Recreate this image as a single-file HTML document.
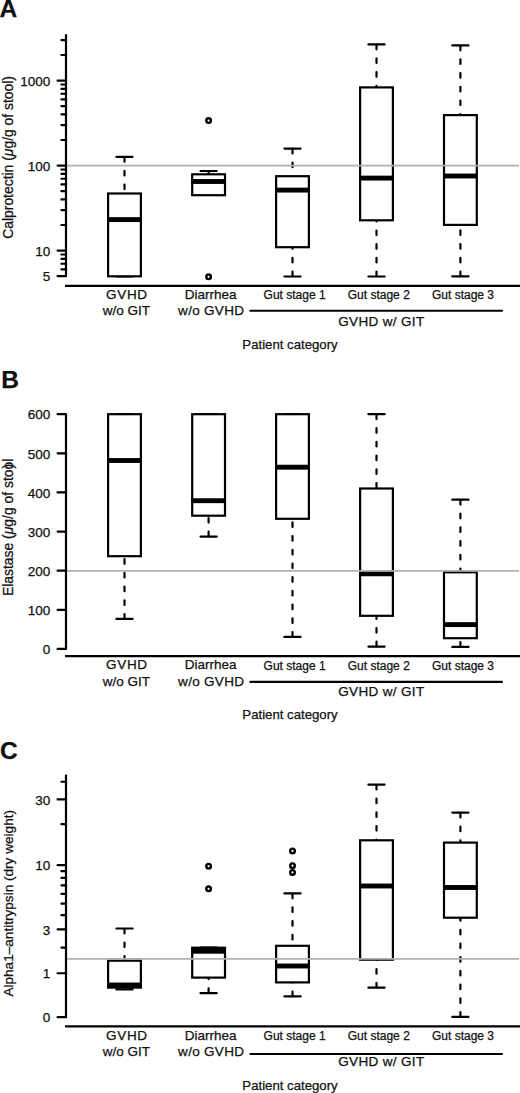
<!DOCTYPE html>
<html><head><meta charset="utf-8"><title>Boxplots</title>
<style>
html,body{margin:0;padding:0;background:#fff;}
body{width:520px;height:1093px;overflow:hidden;}
svg{display:block;font-family:"Liberation Sans", sans-serif;fill:#111;}
svg text{fill:#111;stroke:#111;stroke-width:0.25px;}
</style></head>
<body>
<svg width="520" height="1093" viewBox="0 0 520 1093" shape-rendering="geometricPrecision">
<rect width="520" height="1093" fill="#fff"/>
<text x="-0.40" y="17.40" font-size="24.5" text-anchor="start" font-weight="bold" >A</text>
<line x1="66.00" y1="34.20" x2="66.00" y2="276.19" stroke="#000" stroke-width="2.2" />
<line x1="57.60" y1="80.60" x2="66.00" y2="80.60" stroke="#000" stroke-width="2.2" stroke-linecap="round"/>
<line x1="57.60" y1="165.60" x2="66.00" y2="165.60" stroke="#000" stroke-width="2.2" stroke-linecap="round"/>
<line x1="57.60" y1="250.60" x2="66.00" y2="250.60" stroke="#000" stroke-width="2.2" stroke-linecap="round"/>
<line x1="57.60" y1="276.19" x2="66.00" y2="276.19" stroke="#000" stroke-width="2.2" stroke-linecap="round"/>
<line x1="61.40" y1="40.04" x2="66.00" y2="40.04" stroke="#000" stroke-width="2.2" stroke-linecap="round"/>
<line x1="61.40" y1="55.01" x2="66.00" y2="55.01" stroke="#000" stroke-width="2.2" stroke-linecap="round"/>
<line x1="61.40" y1="84.49" x2="66.00" y2="84.49" stroke="#000" stroke-width="2.2" stroke-linecap="round"/>
<line x1="61.40" y1="88.84" x2="66.00" y2="88.84" stroke="#000" stroke-width="2.2" stroke-linecap="round"/>
<line x1="61.40" y1="93.77" x2="66.00" y2="93.77" stroke="#000" stroke-width="2.2" stroke-linecap="round"/>
<line x1="61.40" y1="99.46" x2="66.00" y2="99.46" stroke="#000" stroke-width="2.2" stroke-linecap="round"/>
<line x1="61.40" y1="106.19" x2="66.00" y2="106.19" stroke="#000" stroke-width="2.2" stroke-linecap="round"/>
<line x1="61.40" y1="114.42" x2="66.00" y2="114.42" stroke="#000" stroke-width="2.2" stroke-linecap="round"/>
<line x1="61.40" y1="125.04" x2="66.00" y2="125.04" stroke="#000" stroke-width="2.2" stroke-linecap="round"/>
<line x1="61.40" y1="140.01" x2="66.00" y2="140.01" stroke="#000" stroke-width="2.2" stroke-linecap="round"/>
<line x1="61.40" y1="169.49" x2="66.00" y2="169.49" stroke="#000" stroke-width="2.2" stroke-linecap="round"/>
<line x1="61.40" y1="173.84" x2="66.00" y2="173.84" stroke="#000" stroke-width="2.2" stroke-linecap="round"/>
<line x1="61.40" y1="178.77" x2="66.00" y2="178.77" stroke="#000" stroke-width="2.2" stroke-linecap="round"/>
<line x1="61.40" y1="184.46" x2="66.00" y2="184.46" stroke="#000" stroke-width="2.2" stroke-linecap="round"/>
<line x1="61.40" y1="191.19" x2="66.00" y2="191.19" stroke="#000" stroke-width="2.2" stroke-linecap="round"/>
<line x1="61.40" y1="199.42" x2="66.00" y2="199.42" stroke="#000" stroke-width="2.2" stroke-linecap="round"/>
<line x1="61.40" y1="210.04" x2="66.00" y2="210.04" stroke="#000" stroke-width="2.2" stroke-linecap="round"/>
<line x1="61.40" y1="225.01" x2="66.00" y2="225.01" stroke="#000" stroke-width="2.2" stroke-linecap="round"/>
<line x1="61.40" y1="254.49" x2="66.00" y2="254.49" stroke="#000" stroke-width="2.2" stroke-linecap="round"/>
<line x1="61.40" y1="258.84" x2="66.00" y2="258.84" stroke="#000" stroke-width="2.2" stroke-linecap="round"/>
<line x1="61.40" y1="263.77" x2="66.00" y2="263.77" stroke="#000" stroke-width="2.2" stroke-linecap="round"/>
<line x1="61.40" y1="269.46" x2="66.00" y2="269.46" stroke="#000" stroke-width="2.2" stroke-linecap="round"/>
<text x="50.30" y="85.80" font-size="13.5" text-anchor="end" font-weight="normal" >1000</text>
<text x="50.30" y="170.80" font-size="13.5" text-anchor="end" font-weight="normal" >100</text>
<text x="50.30" y="255.80" font-size="13.5" text-anchor="end" font-weight="normal" >10</text>
<text x="50.30" y="281.39" font-size="13.5" text-anchor="end" font-weight="normal" >5</text>
<line x1="65.00" y1="285.80" x2="520.00" y2="285.80" stroke="#000" stroke-width="2.2" />
<text x="126.90" y="298.90" font-size="13.5" text-anchor="middle" font-weight="normal" letter-spacing="0.7">GVHD</text>
<text x="126.40" y="315.30" font-size="13.5" text-anchor="middle" font-weight="normal" >w/o GIT</text>
<text x="210.60" y="298.90" font-size="13.5" text-anchor="middle" font-weight="normal" >Diarrhea</text>
<text x="211.20" y="315.30" font-size="13.5" text-anchor="middle" font-weight="normal" letter-spacing="0.3">w/o GVHD</text>
<text x="294.60" y="299.20" font-size="12" text-anchor="middle" font-weight="normal" >Gut stage 1</text>
<text x="378.80" y="299.20" font-size="12" text-anchor="middle" font-weight="normal" >Gut stage 2</text>
<text x="463.00" y="299.20" font-size="12" text-anchor="middle" font-weight="normal" >Gut stage 3</text>
<line x1="250.35" y1="310.80" x2="501.95" y2="310.80" stroke="#000" stroke-width="2.1" stroke-linecap="round"/>
<text x="381.40" y="325.60" font-size="13.5" text-anchor="middle" font-weight="normal" letter-spacing="0.35">GVHD w/ GIT</text>
<text x="290.00" y="348.90" font-size="13.2" text-anchor="middle" font-weight="normal" >Patient category</text>
<text transform="translate(12.7,157.4) rotate(-90)" font-size="13.9" text-anchor="middle">Calprotectin (<tspan font-style="italic">μ</tspan>g/g of stool)</text>
<line x1="124.50" y1="156.80" x2="124.50" y2="193.50" stroke="#000" stroke-width="2.2" stroke-dasharray="4.6 9.1" stroke-dashoffset="-0.3" stroke-linecap="round"/>
<line x1="116.40" y1="156.80" x2="132.60" y2="156.80" stroke="#000" stroke-width="2.2" stroke-linecap="round"/>
<line x1="116.40" y1="276.30" x2="132.60" y2="276.30" stroke="#000" stroke-width="2.2" stroke-linecap="round"/>
<rect x="108.10" y="193.50" width="32.80" height="82.80" fill="#fff" stroke="#000" stroke-width="2.2"/>
<rect x="107.10" y="217.15" width="34.80" height="4.9" fill="#000"/>
<line x1="208.60" y1="171.00" x2="208.60" y2="174.30" stroke="#000" stroke-width="2.2" stroke-dasharray="4.6 9.1" stroke-dashoffset="-0.3" stroke-linecap="round"/>
<line x1="200.50" y1="171.00" x2="216.70" y2="171.00" stroke="#000" stroke-width="2.2" stroke-linecap="round"/>
<rect x="192.20" y="174.30" width="32.80" height="20.90" fill="#fff" stroke="#000" stroke-width="2.2"/>
<rect x="191.20" y="179.05" width="34.80" height="4.9" fill="#000"/>
<circle cx="208.60" cy="120.60" r="2.3" fill="none" stroke="#000" stroke-width="2.4"/>
<circle cx="208.60" cy="276.80" r="2.3" fill="none" stroke="#000" stroke-width="2.4"/>
<line x1="292.50" y1="148.60" x2="292.50" y2="176.20" stroke="#000" stroke-width="2.2" stroke-dasharray="4.6 9.1" stroke-dashoffset="-0.3" stroke-linecap="round"/>
<line x1="292.50" y1="276.50" x2="292.50" y2="247.20" stroke="#000" stroke-width="2.2" stroke-dasharray="4.6 9.1" stroke-dashoffset="-0.3" stroke-linecap="round"/>
<line x1="284.40" y1="148.60" x2="300.60" y2="148.60" stroke="#000" stroke-width="2.2" stroke-linecap="round"/>
<line x1="284.40" y1="276.50" x2="300.60" y2="276.50" stroke="#000" stroke-width="2.2" stroke-linecap="round"/>
<rect x="276.10" y="176.20" width="32.80" height="71.00" fill="#fff" stroke="#000" stroke-width="2.2"/>
<rect x="275.10" y="187.65" width="34.80" height="4.9" fill="#000"/>
<line x1="376.50" y1="44.40" x2="376.50" y2="87.40" stroke="#000" stroke-width="2.2" stroke-dasharray="4.6 9.1" stroke-dashoffset="-0.3" stroke-linecap="round"/>
<line x1="376.50" y1="276.50" x2="376.50" y2="220.30" stroke="#000" stroke-width="2.2" stroke-dasharray="4.6 9.1" stroke-dashoffset="-0.3" stroke-linecap="round"/>
<line x1="368.40" y1="44.40" x2="384.60" y2="44.40" stroke="#000" stroke-width="2.2" stroke-linecap="round"/>
<line x1="368.40" y1="276.50" x2="384.60" y2="276.50" stroke="#000" stroke-width="2.2" stroke-linecap="round"/>
<rect x="360.10" y="87.40" width="32.80" height="132.90" fill="#fff" stroke="#000" stroke-width="2.2"/>
<rect x="359.10" y="175.65" width="34.80" height="4.9" fill="#000"/>
<line x1="460.40" y1="45.40" x2="460.40" y2="115.10" stroke="#000" stroke-width="2.2" stroke-dasharray="4.6 9.1" stroke-dashoffset="-0.3" stroke-linecap="round"/>
<line x1="460.40" y1="276.40" x2="460.40" y2="224.90" stroke="#000" stroke-width="2.2" stroke-dasharray="4.6 9.1" stroke-dashoffset="-0.3" stroke-linecap="round"/>
<line x1="452.30" y1="45.40" x2="468.50" y2="45.40" stroke="#000" stroke-width="2.2" stroke-linecap="round"/>
<line x1="452.30" y1="276.40" x2="468.50" y2="276.40" stroke="#000" stroke-width="2.2" stroke-linecap="round"/>
<rect x="444.00" y="115.10" width="32.80" height="109.80" fill="#fff" stroke="#000" stroke-width="2.2"/>
<rect x="443.00" y="173.55" width="34.80" height="4.9" fill="#000"/>
<line x1="67.00" y1="165.70" x2="519.00" y2="165.70" stroke="#b0b0b0" stroke-width="1.7" />
<text x="1.20" y="388.00" font-size="24.5" text-anchor="start" font-weight="bold" >B</text>
<line x1="66.00" y1="414.20" x2="66.00" y2="648.90" stroke="#000" stroke-width="2.2" />
<line x1="57.60" y1="648.90" x2="66.00" y2="648.90" stroke="#000" stroke-width="2.2" stroke-linecap="round"/>
<line x1="57.60" y1="609.78" x2="66.00" y2="609.78" stroke="#000" stroke-width="2.2" stroke-linecap="round"/>
<line x1="57.60" y1="570.67" x2="66.00" y2="570.67" stroke="#000" stroke-width="2.2" stroke-linecap="round"/>
<line x1="57.60" y1="531.55" x2="66.00" y2="531.55" stroke="#000" stroke-width="2.2" stroke-linecap="round"/>
<line x1="57.60" y1="492.43" x2="66.00" y2="492.43" stroke="#000" stroke-width="2.2" stroke-linecap="round"/>
<line x1="57.60" y1="453.31" x2="66.00" y2="453.31" stroke="#000" stroke-width="2.2" stroke-linecap="round"/>
<line x1="57.60" y1="414.20" x2="66.00" y2="414.20" stroke="#000" stroke-width="2.2" stroke-linecap="round"/>
<text x="50.30" y="654.10" font-size="13.5" text-anchor="end" font-weight="normal" >0</text>
<text x="50.30" y="614.98" font-size="13.5" text-anchor="end" font-weight="normal" >100</text>
<text x="50.30" y="575.87" font-size="13.5" text-anchor="end" font-weight="normal" >200</text>
<text x="50.30" y="536.75" font-size="13.5" text-anchor="end" font-weight="normal" >300</text>
<text x="50.30" y="497.63" font-size="13.5" text-anchor="end" font-weight="normal" >400</text>
<text x="50.30" y="458.51" font-size="13.5" text-anchor="end" font-weight="normal" >500</text>
<text x="50.30" y="419.40" font-size="13.5" text-anchor="end" font-weight="normal" >600</text>
<line x1="65.00" y1="656.20" x2="520.00" y2="656.20" stroke="#000" stroke-width="2.2" />
<text x="126.90" y="669.30" font-size="13.5" text-anchor="middle" font-weight="normal" letter-spacing="0.7">GVHD</text>
<text x="126.40" y="685.70" font-size="13.5" text-anchor="middle" font-weight="normal" >w/o GIT</text>
<text x="210.60" y="669.30" font-size="13.5" text-anchor="middle" font-weight="normal" >Diarrhea</text>
<text x="211.20" y="685.70" font-size="13.5" text-anchor="middle" font-weight="normal" letter-spacing="0.3">w/o GVHD</text>
<text x="294.60" y="669.60" font-size="12" text-anchor="middle" font-weight="normal" >Gut stage 1</text>
<text x="378.80" y="669.60" font-size="12" text-anchor="middle" font-weight="normal" >Gut stage 2</text>
<text x="463.00" y="669.60" font-size="12" text-anchor="middle" font-weight="normal" >Gut stage 3</text>
<line x1="250.35" y1="681.90" x2="501.95" y2="681.90" stroke="#000" stroke-width="2.1" stroke-linecap="round"/>
<text x="381.40" y="696.00" font-size="13.5" text-anchor="middle" font-weight="normal" letter-spacing="0.35">GVHD w/ GIT</text>
<text x="290.00" y="719.30" font-size="13.2" text-anchor="middle" font-weight="normal" >Patient category</text>
<text transform="translate(12.7,527.3) rotate(-90)" font-size="13.9" text-anchor="middle">Elastase (<tspan font-style="italic">μ</tspan>g/g of stoo<tspan dx="-6.8">)</tspan><tspan dx="2.3">l</tspan></text>
<line x1="124.50" y1="618.90" x2="124.50" y2="556.20" stroke="#000" stroke-width="2.2" stroke-dasharray="4.6 9.1" stroke-dashoffset="-0.3" stroke-linecap="round"/>
<line x1="116.40" y1="414.20" x2="132.60" y2="414.20" stroke="#000" stroke-width="2.2" stroke-linecap="round"/>
<line x1="116.40" y1="618.90" x2="132.60" y2="618.90" stroke="#000" stroke-width="2.2" stroke-linecap="round"/>
<rect x="108.10" y="414.20" width="32.80" height="142.00" fill="#fff" stroke="#000" stroke-width="2.2"/>
<rect x="107.10" y="458.05" width="34.80" height="4.9" fill="#000"/>
<line x1="208.60" y1="536.60" x2="208.60" y2="515.70" stroke="#000" stroke-width="2.2" stroke-dasharray="4.6 9.1" stroke-dashoffset="-0.3" stroke-linecap="round"/>
<line x1="200.50" y1="414.20" x2="216.70" y2="414.20" stroke="#000" stroke-width="2.2" stroke-linecap="round"/>
<line x1="200.50" y1="536.60" x2="216.70" y2="536.60" stroke="#000" stroke-width="2.2" stroke-linecap="round"/>
<rect x="192.20" y="414.20" width="32.80" height="101.50" fill="#fff" stroke="#000" stroke-width="2.2"/>
<rect x="191.20" y="498.25" width="34.80" height="4.9" fill="#000"/>
<line x1="292.50" y1="636.90" x2="292.50" y2="518.80" stroke="#000" stroke-width="2.2" stroke-dasharray="4.6 9.1" stroke-dashoffset="-0.3" stroke-linecap="round"/>
<line x1="284.40" y1="414.20" x2="300.60" y2="414.20" stroke="#000" stroke-width="2.2" stroke-linecap="round"/>
<line x1="284.40" y1="636.90" x2="300.60" y2="636.90" stroke="#000" stroke-width="2.2" stroke-linecap="round"/>
<rect x="276.10" y="414.20" width="32.80" height="104.60" fill="#fff" stroke="#000" stroke-width="2.2"/>
<rect x="275.10" y="464.75" width="34.80" height="4.9" fill="#000"/>
<line x1="376.50" y1="414.20" x2="376.50" y2="488.50" stroke="#000" stroke-width="2.2" stroke-dasharray="4.6 9.1" stroke-dashoffset="-0.3" stroke-linecap="round"/>
<line x1="376.50" y1="646.60" x2="376.50" y2="615.80" stroke="#000" stroke-width="2.2" stroke-dasharray="4.6 9.1" stroke-dashoffset="-0.3" stroke-linecap="round"/>
<line x1="368.40" y1="414.20" x2="384.60" y2="414.20" stroke="#000" stroke-width="2.2" stroke-linecap="round"/>
<line x1="368.40" y1="646.60" x2="384.60" y2="646.60" stroke="#000" stroke-width="2.2" stroke-linecap="round"/>
<rect x="360.10" y="488.50" width="32.80" height="127.30" fill="#fff" stroke="#000" stroke-width="2.2"/>
<rect x="359.10" y="571.35" width="34.80" height="4.9" fill="#000"/>
<line x1="460.40" y1="499.70" x2="460.40" y2="572.30" stroke="#000" stroke-width="2.2" stroke-dasharray="4.6 9.1" stroke-dashoffset="-0.3" stroke-linecap="round"/>
<line x1="460.40" y1="646.90" x2="460.40" y2="638.20" stroke="#000" stroke-width="2.2" stroke-dasharray="4.6 9.1" stroke-dashoffset="-0.3" stroke-linecap="round"/>
<line x1="452.30" y1="499.70" x2="468.50" y2="499.70" stroke="#000" stroke-width="2.2" stroke-linecap="round"/>
<line x1="452.30" y1="646.90" x2="468.50" y2="646.90" stroke="#000" stroke-width="2.2" stroke-linecap="round"/>
<rect x="444.00" y="572.30" width="32.80" height="65.90" fill="#fff" stroke="#000" stroke-width="2.2"/>
<rect x="443.00" y="622.15" width="34.80" height="4.9" fill="#000"/>
<line x1="67.00" y1="570.80" x2="519.00" y2="570.80" stroke="#b0b0b0" stroke-width="1.7" />
<text x="0.00" y="758.60" font-size="24.5" text-anchor="start" font-weight="bold" >C</text>
<line x1="66.00" y1="774.60" x2="66.00" y2="1017.20" stroke="#000" stroke-width="2.2" />
<line x1="57.60" y1="1017.20" x2="66.00" y2="1017.20" stroke="#000" stroke-width="2.2" stroke-linecap="round"/>
<line x1="57.60" y1="973.25" x2="66.00" y2="973.25" stroke="#000" stroke-width="2.2" stroke-linecap="round"/>
<line x1="57.60" y1="929.30" x2="66.00" y2="929.30" stroke="#000" stroke-width="2.2" stroke-linecap="round"/>
<line x1="57.60" y1="865.16" x2="66.00" y2="865.16" stroke="#000" stroke-width="2.2" stroke-linecap="round"/>
<line x1="57.60" y1="799.46" x2="66.00" y2="799.46" stroke="#000" stroke-width="2.2" stroke-linecap="round"/>
<line x1="61.40" y1="947.54" x2="66.00" y2="947.54" stroke="#000" stroke-width="2.2" stroke-linecap="round"/>
<line x1="61.40" y1="915.15" x2="66.00" y2="915.15" stroke="#000" stroke-width="2.2" stroke-linecap="round"/>
<line x1="61.40" y1="903.59" x2="66.00" y2="903.59" stroke="#000" stroke-width="2.2" stroke-linecap="round"/>
<line x1="61.40" y1="893.82" x2="66.00" y2="893.82" stroke="#000" stroke-width="2.2" stroke-linecap="round"/>
<line x1="61.40" y1="885.35" x2="66.00" y2="885.35" stroke="#000" stroke-width="2.2" stroke-linecap="round"/>
<line x1="61.40" y1="877.88" x2="66.00" y2="877.88" stroke="#000" stroke-width="2.2" stroke-linecap="round"/>
<line x1="61.40" y1="871.20" x2="66.00" y2="871.20" stroke="#000" stroke-width="2.2" stroke-linecap="round"/>
<line x1="61.40" y1="824.16" x2="66.00" y2="824.16" stroke="#000" stroke-width="2.2" stroke-linecap="round"/>
<line x1="61.40" y1="781.73" x2="66.00" y2="781.73" stroke="#000" stroke-width="2.2" stroke-linecap="round"/>
<text x="50.30" y="1022.40" font-size="13.5" text-anchor="end" font-weight="normal" >0</text>
<text x="50.30" y="978.45" font-size="13.5" text-anchor="end" font-weight="normal" >1</text>
<text x="50.30" y="934.50" font-size="13.5" text-anchor="end" font-weight="normal" >3</text>
<text x="50.30" y="870.36" font-size="13.5" text-anchor="end" font-weight="normal" >10</text>
<text x="50.30" y="804.66" font-size="13.5" text-anchor="end" font-weight="normal" >30</text>
<line x1="65.00" y1="1026.40" x2="520.00" y2="1026.40" stroke="#000" stroke-width="2.2" />
<text x="126.90" y="1039.50" font-size="13.5" text-anchor="middle" font-weight="normal" letter-spacing="0.7">GVHD</text>
<text x="126.40" y="1055.90" font-size="13.5" text-anchor="middle" font-weight="normal" >w/o GIT</text>
<text x="210.60" y="1039.50" font-size="13.5" text-anchor="middle" font-weight="normal" >Diarrhea</text>
<text x="211.20" y="1055.90" font-size="13.5" text-anchor="middle" font-weight="normal" letter-spacing="0.3">w/o GVHD</text>
<text x="294.60" y="1039.80" font-size="12" text-anchor="middle" font-weight="normal" >Gut stage 1</text>
<text x="378.80" y="1039.80" font-size="12" text-anchor="middle" font-weight="normal" >Gut stage 2</text>
<text x="463.00" y="1039.80" font-size="12" text-anchor="middle" font-weight="normal" >Gut stage 3</text>
<line x1="250.35" y1="1054.00" x2="501.95" y2="1054.00" stroke="#000" stroke-width="2.1" stroke-linecap="round"/>
<text x="381.40" y="1066.20" font-size="13.5" text-anchor="middle" font-weight="normal" letter-spacing="0.35">GVHD w/ GIT</text>
<text x="290.00" y="1089.50" font-size="13.2" text-anchor="middle" font-weight="normal" >Patient category</text>
<text transform="translate(12.7,903.3) rotate(-90)" font-size="13.6" text-anchor="middle">Alpha1–antitrypsin (dry weight)</text>
<line x1="124.50" y1="928.50" x2="124.50" y2="960.70" stroke="#000" stroke-width="2.2" stroke-dasharray="4.6 9.1" stroke-dashoffset="-0.3" stroke-linecap="round"/>
<line x1="124.50" y1="989.40" x2="124.50" y2="987.60" stroke="#000" stroke-width="2.2" stroke-dasharray="4.6 9.1" stroke-dashoffset="-0.3" stroke-linecap="round"/>
<line x1="116.40" y1="928.50" x2="132.60" y2="928.50" stroke="#000" stroke-width="2.2" stroke-linecap="round"/>
<line x1="116.40" y1="989.40" x2="132.60" y2="989.40" stroke="#000" stroke-width="2.2" stroke-linecap="round"/>
<rect x="108.10" y="960.70" width="32.80" height="26.90" fill="#fff" stroke="#000" stroke-width="2.2"/>
<rect x="107.10" y="982.55" width="34.80" height="4.9" fill="#000"/>
<line x1="208.60" y1="993.20" x2="208.60" y2="977.60" stroke="#000" stroke-width="2.2" stroke-dasharray="4.6 9.1" stroke-dashoffset="-0.3" stroke-linecap="round"/>
<line x1="200.50" y1="947.70" x2="216.70" y2="947.70" stroke="#000" stroke-width="2.2" stroke-linecap="round"/>
<line x1="200.50" y1="993.20" x2="216.70" y2="993.20" stroke="#000" stroke-width="2.2" stroke-linecap="round"/>
<rect x="192.20" y="947.70" width="32.80" height="29.90" fill="#fff" stroke="#000" stroke-width="2.2"/>
<rect x="191.20" y="947.50" width="34.80" height="6.2" fill="#000"/>
<circle cx="208.60" cy="866.20" r="2.3" fill="none" stroke="#000" stroke-width="2.4"/>
<circle cx="208.60" cy="888.80" r="2.3" fill="none" stroke="#000" stroke-width="2.4"/>
<line x1="292.50" y1="893.40" x2="292.50" y2="945.80" stroke="#000" stroke-width="2.2" stroke-dasharray="4.6 9.1" stroke-dashoffset="-0.3" stroke-linecap="round"/>
<line x1="292.50" y1="996.40" x2="292.50" y2="982.40" stroke="#000" stroke-width="2.2" stroke-dasharray="4.6 9.1" stroke-dashoffset="-0.3" stroke-linecap="round"/>
<line x1="284.40" y1="893.40" x2="300.60" y2="893.40" stroke="#000" stroke-width="2.2" stroke-linecap="round"/>
<line x1="284.40" y1="996.40" x2="300.60" y2="996.40" stroke="#000" stroke-width="2.2" stroke-linecap="round"/>
<rect x="276.10" y="945.80" width="32.80" height="36.60" fill="#fff" stroke="#000" stroke-width="2.2"/>
<rect x="275.10" y="963.55" width="34.80" height="4.9" fill="#000"/>
<circle cx="292.50" cy="850.90" r="2.3" fill="none" stroke="#000" stroke-width="2.4"/>
<circle cx="292.50" cy="865.70" r="2.3" fill="none" stroke="#000" stroke-width="2.4"/>
<circle cx="292.50" cy="872.40" r="2.3" fill="none" stroke="#000" stroke-width="2.4"/>
<line x1="376.50" y1="784.60" x2="376.50" y2="840.30" stroke="#000" stroke-width="2.2" stroke-dasharray="4.6 9.1" stroke-dashoffset="-0.3" stroke-linecap="round"/>
<line x1="376.50" y1="987.70" x2="376.50" y2="959.70" stroke="#000" stroke-width="2.2" stroke-dasharray="4.6 9.1" stroke-dashoffset="-0.3" stroke-linecap="round"/>
<line x1="368.40" y1="784.60" x2="384.60" y2="784.60" stroke="#000" stroke-width="2.2" stroke-linecap="round"/>
<line x1="368.40" y1="987.70" x2="384.60" y2="987.70" stroke="#000" stroke-width="2.2" stroke-linecap="round"/>
<rect x="360.10" y="840.30" width="32.80" height="119.40" fill="#fff" stroke="#000" stroke-width="2.2"/>
<rect x="359.10" y="883.55" width="34.80" height="4.9" fill="#000"/>
<line x1="460.40" y1="812.60" x2="460.40" y2="842.60" stroke="#000" stroke-width="2.2" stroke-dasharray="4.6 9.1" stroke-dashoffset="-0.3" stroke-linecap="round"/>
<line x1="460.40" y1="1016.90" x2="460.40" y2="917.70" stroke="#000" stroke-width="2.2" stroke-dasharray="4.6 9.1" stroke-dashoffset="-0.3" stroke-linecap="round"/>
<line x1="452.30" y1="812.60" x2="468.50" y2="812.60" stroke="#000" stroke-width="2.2" stroke-linecap="round"/>
<line x1="452.30" y1="1016.90" x2="468.50" y2="1016.90" stroke="#000" stroke-width="2.2" stroke-linecap="round"/>
<rect x="444.00" y="842.60" width="32.80" height="75.10" fill="#fff" stroke="#000" stroke-width="2.2"/>
<rect x="443.00" y="885.05" width="34.80" height="4.9" fill="#000"/>
<line x1="67.00" y1="958.80" x2="519.00" y2="958.80" stroke="#b0b0b0" stroke-width="1.7" />
</svg>
</body></html>
